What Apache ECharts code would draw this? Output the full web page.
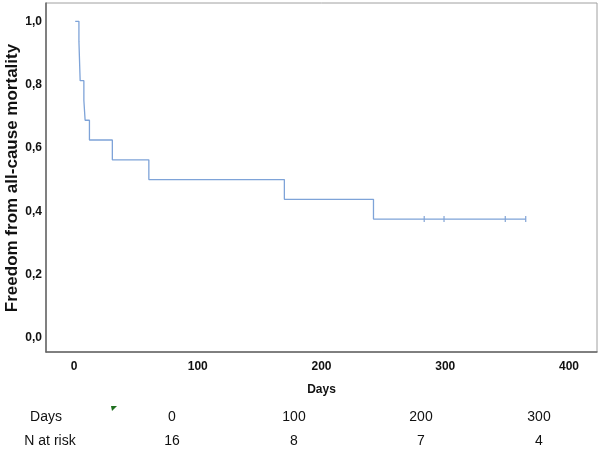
<!DOCTYPE html>
<html>
<head>
<meta charset="utf-8">
<script src="https://cdn.jsdelivr.net/npm/echarts@6/dist/echarts.min.js"></script>
<style>
html,body{margin:0;padding:0;background:#fff;}
#chart{width:600px;height:449px;}
</style>
</head>
<body>
<div id="chart"></div>
<script>
// Kaplan-Meier step curve (days, survival)
const kmDays = [1, 4, 5, 8, 9, 12.5, 31, 60.5, 170, 242, 365];
const kmSurv = [1.0, 0.9375, 0.8125, 0.75, 0.6875, 0.625, 0.5625, 0.5, 0.4375, 0.375, 0.375];
// censored observations
const censorDays = [283, 299, 348.5, 365];
const censorSurv = [0.375, 0.375, 0.375, 0.375];
// axis tick labels
const xTicks = [0, 100, 200, 300, 400];
const yTicks = [0, 0.2, 0.4, 0.6, 0.8, 1.0];
// number at risk table
const riskDays = [0, 100, 200, 300];
const riskN = [16, 8, 7, 4];

const chart = echarts.init(document.getElementById('chart'));

const tableFont = "'Liberation Sans Narrow','Arial Narrow','Liberation Sans',sans-serif";
const colX = [172, 294, 421, 539];
const graphics = [];
graphics.push({type:'text', style:{text:'Days', x:46, y:417, align:'center', verticalAlign:'middle', font:'14px ' + tableFont, fill:'#111'}});
graphics.push({type:'text', style:{text:'N at risk', x:50, y:441, align:'center', verticalAlign:'middle', font:'14px ' + tableFont, fill:'#111'}});
riskDays.forEach((d, i) => {
  graphics.push({type:'text', style:{text:String(d), x:colX[i], y:417, align:'center', verticalAlign:'middle', font:'14px ' + tableFont, fill:'#111'}});
  graphics.push({type:'text', style:{text:String(riskN[i]), x:colX[i], y:441, align:'center', verticalAlign:'middle', font:'14px ' + tableFont, fill:'#111'}});
});
graphics.push({type:'polygon', shape:{points:[[111,406],[117,406],[112,411]]}, style:{fill:'#1f6f1f'}});
// y-axis title
graphics.push({type:'text', x: 12, y: 178, rotation: Math.PI / 2,
  style:{text:'Freedom from all-cause mortality', x:0, y:0, align:'center', verticalAlign:'middle',
         font:'bold 17px "Liberation Sans", Arial, sans-serif', fill:'#111'}});

chart.setOption({
  animation: false,
  grid: {left: 46, right: 3, top: 3, bottom: 97, show: true, borderColor: '#a0a0a0', borderWidth: 1,
         containLabel: false, outerBoundsMode: 'none'},
  xAxis: {
    type: 'value', min: -22.6, max: 422.6,
    name: 'Days', nameLocation: 'middle', nameGap: 32,
    nameTextStyle: {fontFamily: 'Liberation Sans', fontWeight: 'bold', fontSize: 12, color: '#111'},
    axisLine: {show: true, onZero: false, lineStyle: {color: '#666', width: 1.5}},
    axisTick: {show: false},
    splitLine: {show: false},
    axisLabel: {customValues: xTicks, margin: 9, fontFamily: 'Liberation Sans', fontWeight: 'bold', fontSize: 12, color: '#111'}
  },
  yAxis: {
    type: 'value', min: -0.045, max: 1.058,
    axisLine: {show: true, onZero: false, lineStyle: {color: '#666', width: 1.5}},
    axisTick: {show: false},
    splitLine: {show: false},
    axisLabel: {customValues: yTicks, margin: 4, fontFamily: 'Liberation Sans', fontWeight: 'bold', fontSize: 12, color: '#111',
      formatter: v => v.toFixed(1).replace('.', ',')}
  },
  series: [
    {
      type: 'line', step: 'end', symbol: 'none',
      lineStyle: {color: '#7ea3d8', width: 1.3},
      data: kmDays.map((d, i) => [d, kmSurv[i]])
    },
    {
      type: 'scatter', symbol: 'rect', symbolSize: [1.3, 6],
      itemStyle: {color: '#6f96cf'},
      data: censorDays.map((d, i) => [d, censorSurv[i]])
    }
  ],
  graphic: graphics
});
</script>
</body>
</html>
